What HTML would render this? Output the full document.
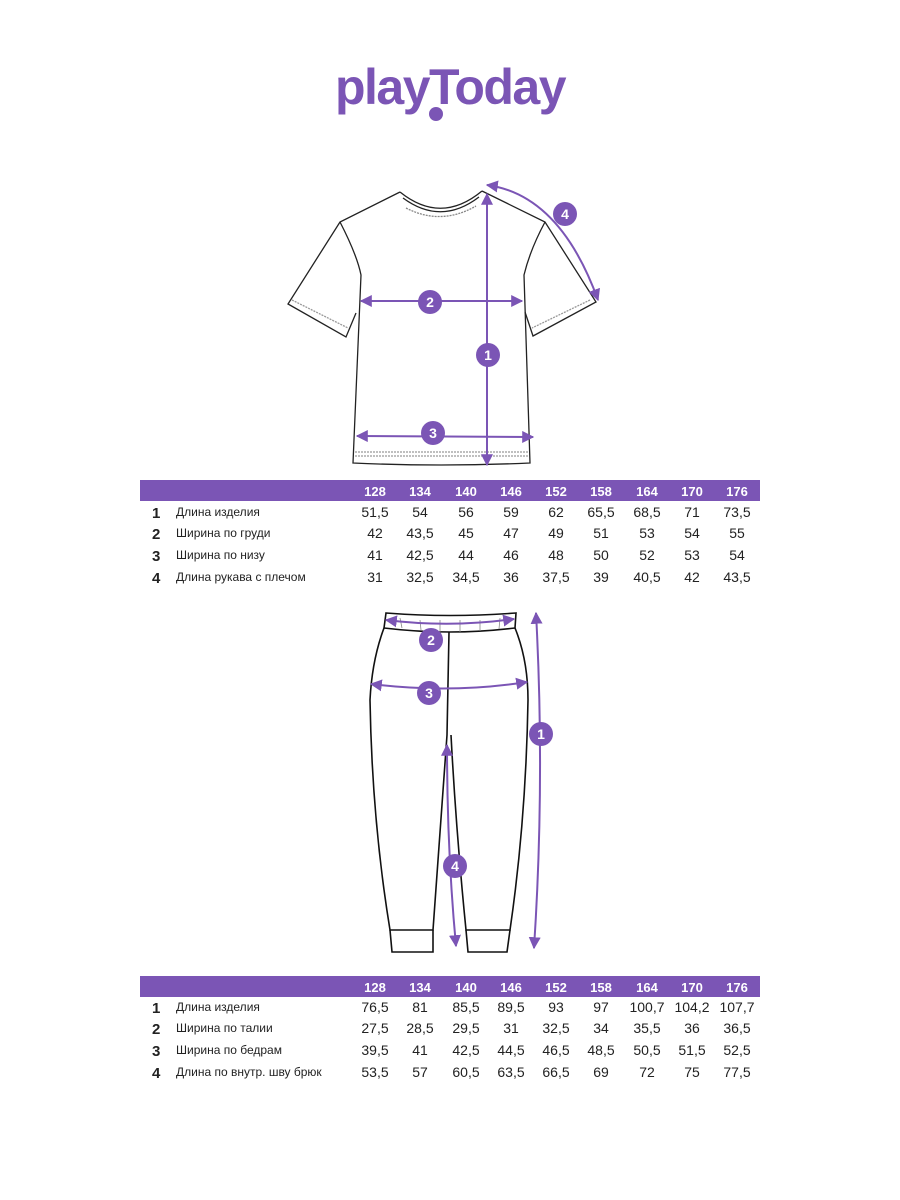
<!DOCTYPE html>
<html><head><meta charset="utf-8"><style>
html,body{margin:0;padding:0;background:#fff}
svg{display:block}
text{font-family:"Liberation Sans","DejaVu Sans",sans-serif}
</style></head><body>
<svg width="900" height="1200" viewBox="0 0 900 1200" xmlns="http://www.w3.org/2000/svg">
<defs>
<marker id="ah" viewBox="0 0 10 10" refX="9" refY="5" markerWidth="6" markerHeight="6" orient="auto-start-reverse"><path d="M0,0 L10,5 L0,10 z" fill="#7b55b5"/></marker>
</defs>
<!-- logo -->
<text x="450" y="104" text-anchor="middle" font-size="50" font-weight="bold" fill="#7b55b5" letter-spacing="-1.5">playToday</text>
<circle cx="436" cy="114" r="7" fill="#7b55b5"/>

<!-- T-shirt -->
<g fill="none" stroke="#222" stroke-width="1.3">
<path d="M400,192 Q441,225 482,191"/>
<path d="M403,198 Q441,226 479,197"/>
<path d="M406,208 Q441,226 476,206" stroke-dasharray="2,1" stroke="#888"/>
<path d="M400,192 L340,222 L288,304 L346,337 L356,313"/>
<path d="M482,191 L545,222 L596,302 L533,336 L525,312"/>
<path d="M340,222 Q357,255 361,275 L353,463 Q441,467 530,463 L524,275 Q530,250 545,222"/>
<path d="M292,300 L348,328 M590,300 L532,328 M355,452 L528,452 M355,456 L528,456" stroke="#999" stroke-dasharray="2,1"/>
</g>
<g stroke="#7b55b5" stroke-width="2" fill="none">
<line x1="487" y1="194" x2="487" y2="465" marker-start="url(#ah)" marker-end="url(#ah)"/>
<line x1="361" y1="301" x2="522" y2="301" marker-start="url(#ah)" marker-end="url(#ah)"/>
<line x1="357" y1="436" x2="533" y2="437" marker-start="url(#ah)" marker-end="url(#ah)"/>
<path d="M487,185 Q560,195 598,300" marker-start="url(#ah)" marker-end="url(#ah)"/>
</g>
<g fill="#7b55b5"><circle cx="488" cy="355" r="12"/><circle cx="430" cy="302" r="12"/><circle cx="433" cy="433" r="12"/><circle cx="565" cy="214" r="12"/></g>
<g fill="#fff" font-size="14" font-weight="bold" text-anchor="middle">
<text x="488" y="360">1</text><text x="430" y="307">2</text><text x="433" y="438">3</text><text x="565" y="219">4</text></g>

<!-- Table 1 -->
<rect x="140" y="480" width="620" height="21" fill="#7b55b5"/>
<g font-size="13" font-weight="bold" fill="#fff" text-anchor="middle">
<text x="375" y="496">128</text><text x="420" y="496">134</text><text x="466" y="496">140</text><text x="511" y="496">146</text><text x="556" y="496">152</text><text x="601" y="496">158</text><text x="647" y="496">164</text><text x="692" y="496">170</text><text x="737" y="496">176</text></g>
<g font-size="15" font-weight="bold" fill="#222"><text x="152" y="518">1</text><text x="152" y="539">2</text><text x="152" y="561">3</text><text x="152" y="583">4</text></g>
<g font-size="12" fill="#222"><text x="176" y="516">Длина изделия</text><text x="176" y="537">Ширина по груди</text><text x="176" y="559">Ширина по низу</text><text x="176" y="581">Длина рукава с плечом</text></g>
<g font-size="14" fill="#222" text-anchor="middle">
<text y="517"><tspan x="375">51,5</tspan><tspan x="420">54</tspan><tspan x="466">56</tspan><tspan x="511">59</tspan><tspan x="556">62</tspan><tspan x="601">65,5</tspan><tspan x="647">68,5</tspan><tspan x="692">71</tspan><tspan x="737">73,5</tspan></text>
<text y="538"><tspan x="375">42</tspan><tspan x="420">43,5</tspan><tspan x="466">45</tspan><tspan x="511">47</tspan><tspan x="556">49</tspan><tspan x="601">51</tspan><tspan x="647">53</tspan><tspan x="692">54</tspan><tspan x="737">55</tspan></text>
<text y="560"><tspan x="375">41</tspan><tspan x="420">42,5</tspan><tspan x="466">44</tspan><tspan x="511">46</tspan><tspan x="556">48</tspan><tspan x="601">50</tspan><tspan x="647">52</tspan><tspan x="692">53</tspan><tspan x="737">54</tspan></text>
<text y="582"><tspan x="375">31</tspan><tspan x="420">32,5</tspan><tspan x="466">34,5</tspan><tspan x="511">36</tspan><tspan x="556">37,5</tspan><tspan x="601">39</tspan><tspan x="647">40,5</tspan><tspan x="692">42</tspan><tspan x="737">43,5</tspan></text>
</g>

<!-- Pants -->
<g fill="none" stroke="#111" stroke-width="1.6">
<path d="M386,613 Q450,618 516,613 L515,628 Q450,636 384,628 Z"/>
<path d="M384,628 Q372,660 370,700 Q372,820 390,930 L433,930 Q440,830 447,735 Q448,690 449,632"/>
<path d="M515,628 Q528,660 528,700 Q526,820 510,930 L466,930 Q456,830 451,735"/>
<path d="M390,930 L392,952 L433,952 L433,930 M466,930 L468,952 L507,952 L510,930"/>
<path d="M400,618 L402,628 M420,620 L421,630 M440,620 L440,632 M460,620 L460,632 M480,620 L480,631 M500,618 L499,629" stroke="#888" stroke-width="0.8"/>
</g>
<g stroke="#7b55b5" stroke-width="2" fill="none">
<path d="M536,613 Q545,780 534,948" marker-start="url(#ah)" marker-end="url(#ah)"/>
<path d="M386,620 Q450,628 514,619" marker-start="url(#ah)" marker-end="url(#ah)"/>
<path d="M371,684 Q450,694 527,682" marker-start="url(#ah)" marker-end="url(#ah)"/>
<path d="M447,745 Q447,850 456,946" marker-start="url(#ah)" marker-end="url(#ah)"/>
</g>
<g fill="#7b55b5"><circle cx="541" cy="734" r="12"/><circle cx="431" cy="640" r="12"/><circle cx="429" cy="693" r="12"/><circle cx="455" cy="866" r="12"/></g>
<g fill="#fff" font-size="14" font-weight="bold" text-anchor="middle">
<text x="541" y="739">1</text><text x="431" y="645">2</text><text x="429" y="698">3</text><text x="455" y="871">4</text></g>

<!-- Table 2 -->
<rect x="140" y="976" width="620" height="21" fill="#7b55b5"/>
<g font-size="13" font-weight="bold" fill="#fff" text-anchor="middle">
<text x="375" y="992">128</text><text x="420" y="992">134</text><text x="466" y="992">140</text><text x="511" y="992">146</text><text x="556" y="992">152</text><text x="601" y="992">158</text><text x="647" y="992">164</text><text x="692" y="992">170</text><text x="737" y="992">176</text></g>
<g font-size="15" font-weight="bold" fill="#222"><text x="152" y="1013">1</text><text x="152" y="1034">2</text><text x="152" y="1056">3</text><text x="152" y="1078">4</text></g>
<g font-size="12" fill="#222"><text x="176" y="1011">Длина изделия</text><text x="176" y="1032">Ширина по талии</text><text x="176" y="1054">Ширина по бедрам</text><text x="176" y="1076">Длина по внутр. шву брюк</text></g>
<g font-size="14" fill="#222" text-anchor="middle">
<text y="1012"><tspan x="375">76,5</tspan><tspan x="420">81</tspan><tspan x="466">85,5</tspan><tspan x="511">89,5</tspan><tspan x="556">93</tspan><tspan x="601">97</tspan><tspan x="647">100,7</tspan><tspan x="692">104,2</tspan><tspan x="737">107,7</tspan></text>
<text y="1033"><tspan x="375">27,5</tspan><tspan x="420">28,5</tspan><tspan x="466">29,5</tspan><tspan x="511">31</tspan><tspan x="556">32,5</tspan><tspan x="601">34</tspan><tspan x="647">35,5</tspan><tspan x="692">36</tspan><tspan x="737">36,5</tspan></text>
<text y="1055"><tspan x="375">39,5</tspan><tspan x="420">41</tspan><tspan x="466">42,5</tspan><tspan x="511">44,5</tspan><tspan x="556">46,5</tspan><tspan x="601">48,5</tspan><tspan x="647">50,5</tspan><tspan x="692">51,5</tspan><tspan x="737">52,5</tspan></text>
<text y="1077"><tspan x="375">53,5</tspan><tspan x="420">57</tspan><tspan x="466">60,5</tspan><tspan x="511">63,5</tspan><tspan x="556">66,5</tspan><tspan x="601">69</tspan><tspan x="647">72</tspan><tspan x="692">75</tspan><tspan x="737">77,5</tspan></text>
</g>
</svg>
</body></html>
